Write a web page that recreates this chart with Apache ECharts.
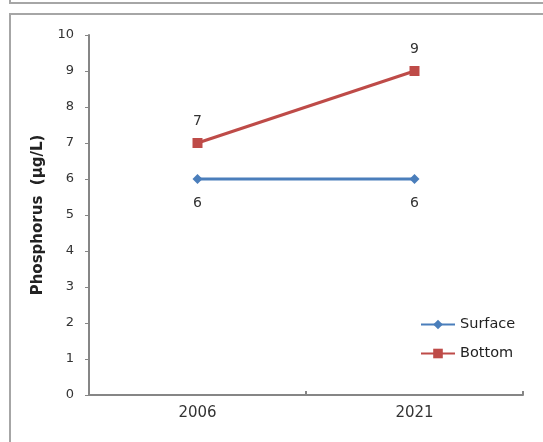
<!DOCTYPE html>
<html>
<head>
<meta charset="utf-8">
<script src="https://cdn.jsdelivr.net/npm/echarts@6/dist/echarts.min.js"></script>
<style>
html,body{margin:0;padding:0;background:#fff;}
#c{width:543px;height:442px;}
</style>
</head>
<body>
<div id="c"></div>
<script>
var categories = ['2006', '2021'];
var surface = [6, 6];
var bottom = [7, 9];
var yTicks = [0, 10, 1];

var chart = echarts.init(document.getElementById('c'));
var font = 'DejaVu Sans';
chart.setOption({
  animation: false,
  backgroundColor: '#fff',
  textStyle: { fontFamily: font },
  graphic: [
    { type: 'rect', shape: { x: 10, y: -10, width: 560, height: 13 }, style: { fill: 'none', stroke: '#a6a6a6', lineWidth: 2 }, z: 0 },
    { type: 'rect', shape: { x: 10, y: 14, width: 560, height: 450 }, style: { fill: 'none', stroke: '#a6a6a6', lineWidth: 2 }, z: 0 }
  ],
  grid: { left: 89, right: 20, top: 35, bottom: 47, containLabel: false },
  legend: {
    orient: 'vertical',
    left: 415,
    top: 312,
    itemGap: 14,
    itemWidth: 34,
    itemHeight: 12,
    textStyle: { fontFamily: font, fontSize: 14.5, lineHeight: 15, color: '#222' },
    data: ['Surface', 'Bottom']
  },
  xAxis: {
    type: 'category',
    data: categories,
    boundaryGap: true,
    axisLine: { lineStyle: { color: '#868686', width: 2 } },
    axisTick: { show: true, length: 4, inside: true, lineStyle: { color: '#868686', width: 2 } },
    axisLabel: { fontFamily: font, fontSize: 15, color: '#333', margin: 11 }
  },
  yAxis: {
    type: 'value',
    min: yTicks[0],
    max: yTicks[1],
    interval: yTicks[2],
    name: 'Phosphorus  (µg/L)',
    nameLocation: 'middle',
    nameGap: 43,
    nameTextStyle: { fontFamily: font, fontSize: 15, fontWeight: 'bold', color: '#222' },
    splitLine: { show: false },
    axisLine: { show: true, lineStyle: { color: '#868686', width: 2 } },
    axisTick: { show: true, length: 4, lineStyle: { color: '#868686', width: 1 } },
    axisLabel: { fontFamily: font, fontSize: 13, color: '#333', margin: 15 }
  },
  series: [
    {
      name: 'Surface',
      type: 'line',
      data: surface,
      symbol: 'diamond',
      symbolSize: 10,
      itemStyle: { color: '#4A7EBB' },
      lineStyle: { color: '#4A7EBB', width: 3 },
      label: { show: true, position: 'bottom', distance: 12, fontFamily: font, fontSize: 14, color: '#333' }
    },
    {
      name: 'Bottom',
      type: 'line',
      data: bottom,
      symbol: 'rect',
      symbolSize: 10,
      itemStyle: { color: '#BE4B48' },
      lineStyle: { color: '#BE4B48', width: 3 },
      label: { show: true, position: 'top', distance: 10, fontFamily: font, fontSize: 14, color: '#333' }
    }
  ]
});
</script>
</body>
</html>
